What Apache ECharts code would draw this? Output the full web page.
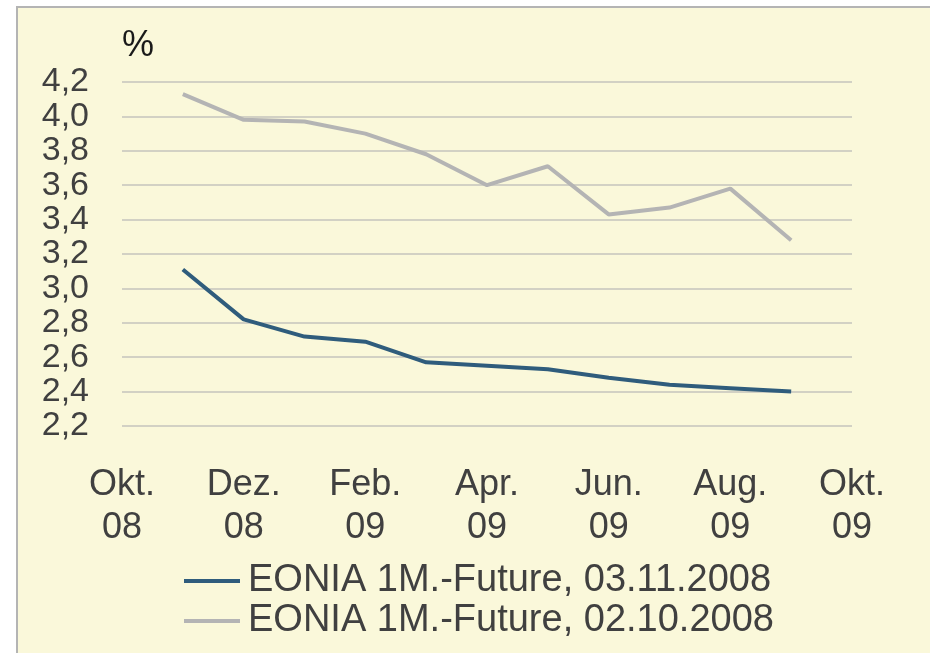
<!DOCTYPE html>
<html>
<head>
<meta charset="utf-8">
<script src="https://cdn.jsdelivr.net/npm/echarts@6/dist/echarts.min.js"></script>
<style>
  html, body { margin: 0; padding: 0; background: #ffffff; }
  #chart { width: 930px; height: 653px; }
</style>
</head>
<body>
<div id="chart"></div>
<script>
// Monthly axis, Okt. 2008 to Okt. 2009
const months = ['Okt.\n08', 'Nov.\n08', 'Dez.\n08', 'Jan.\n09', 'Feb.\n09', 'Mär.\n09', 'Apr.\n09',
                'Mai\n09', 'Jun.\n09', 'Jul.\n09', 'Aug.\n09', 'Sep.\n09', 'Okt.\n09'];

// EONIA one-month futures curves (%), contract months Nov. 08 to Sep. 09
const futures0311 = [null, 3.11, 2.82, 2.72, 2.69, 2.57, 2.55, 2.53, 2.48, 2.44, 2.42, 2.40, null];
const futures0210 = [null, 4.13, 3.98, 3.97, 3.90, 3.78, 3.60, 3.71, 3.43, 3.47, 3.58, 3.28, null];

const seriesNames = ['EONIA 1M.-Future, 03.11.2008', 'EONIA 1M.-Future, 02.10.2008'];

const yMin = 2.2, yMax = 4.2, yStep = 0.2;

const FONT = '"Liberation Sans", Arial, sans-serif';
const TEXT = '#404040';

const chart = echarts.init(document.getElementById('chart'));
chart.setOption({
  animation: false,
  backgroundColor: '#ffffff',
  graphic: [{
    type: 'rect',
    left: 16, top: 6,
    shape: { width: 930, height: 660 },
    style: { fill: '#FAF8DA', stroke: '#b4b4b4', lineWidth: 2 },
    z: -10
  }, {
    type: 'text',
    left: 122, top: 28,
    style: { text: '%', font: '36px ' + FONT, fill: '#1a1a1a' }
  }],
  grid: { left: 122, right: 78, top: 82, bottom: 227 },
  legend: {
    orient: 'vertical',
    left: 184, top: 561,
    padding: 0,
    itemWidth: 56, itemHeight: 4, itemGap: 0,
    icon: 'rect',
    textStyle: { fontFamily: FONT, fontSize: 38, color: TEXT, lineHeight: 40, padding: [0, 0, 0, 3] },
    data: seriesNames
  },
  xAxis: {
    type: 'category',
    data: months,
    boundaryGap: false,
    axisLine: { show: false },
    axisTick: { show: false },
    axisLabel: {
      interval: 1,
      margin: 38,
      fontFamily: FONT, fontSize: 36, color: TEXT, lineHeight: 43
    },
    splitLine: { show: false }
  },
  yAxis: {
    type: 'value',
    min: yMin, max: yMax, interval: yStep,
    axisLine: { show: false },
    axisTick: { show: false },
    axisLabel: {
      margin: 33,
      hideOverlap: false,
      showMinLabel: true,
      showMaxLabel: true,
      fontFamily: FONT, fontSize: 34, color: TEXT,
      formatter: v => v.toFixed(1).replace('.', ',')
    },
    splitLine: { lineStyle: { color: '#c4c4bc', width: 1.5 } }
  },
  series: [{
    name: seriesNames[0],
    type: 'line',
    data: futures0311,
    symbol: 'none',
    color: '#2F5C7C',
    lineStyle: { width: 4, color: '#2F5C7C' },
    z: 3
  }, {
    name: seriesNames[1],
    type: 'line',
    data: futures0210,
    symbol: 'none',
    color: '#B4B4B4',
    lineStyle: { width: 4, color: '#B4B4B4' },
    z: 2
  }]
});
</script>
</body>
</html>
